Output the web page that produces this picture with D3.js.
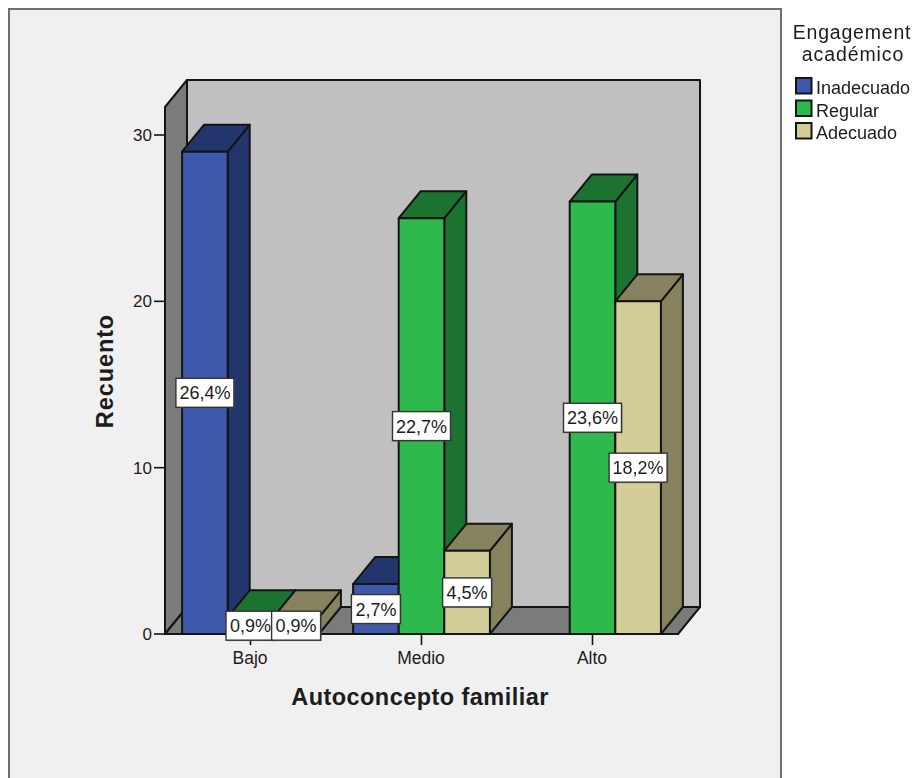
<!DOCTYPE html>
<html><head><meta charset="utf-8">
<script src="https://cdn.jsdelivr.net/npm/d3@7"></script>
<style>html,body{margin:0;padding:0;background:#fff}svg{display:block;filter:blur(0.55px)}text{font-family:"Liberation Sans",Arial,sans-serif;fill:#1c1c1c}</style>
</head><body><div id="c"></div>
<script>
const categories = ["Bajo","Medio","Alto"];
const seriesNames = ["Inadecuado","Regular","Adecuado"];
const inadecuado = [29,3,0];
const regular = [1,25,26];
const adecuado = [1,5,20];
const pctInadecuado = ["26,4%","2,7%",null];
const pctRegular = ["0,9%","22,7%","23,6%"];
const pctAdecuado = ["0,9%","4,5%","18,2%"];
const yTicks = [0,10,20,30];
const front = ["#3e58ac","#2eb94d","#d3ce97"];
const top_ = ["#23356d","#1c7230","#85825d"];
const side = ["#23356d","#1c7230","#85825d"];
const ink = "#141414";

const W=916,H=778,dx=22,dy=-27;
const svg=d3.select("#c").append("svg").attr("width",W).attr("height",H);
const y=d3.scaleLinear().domain([0,30]).range([634,135]);
const x0=d3.scaleBand().domain(categories).range([165,678]).paddingInner(0.2).paddingOuter(0.1);
const x1=d3.scaleBand().domain(seriesNames).range([0,x0.bandwidth()]);
const values=[inadecuado,regular,adecuado], pcts=[pctInadecuado,pctRegular,pctAdecuado];

svg.append("rect").attr("x",9).attr("y",9).attr("width",772).attr("height",780)
  .attr("fill","#f0f0f0").attr("stroke","#6f6f6f").attr("stroke-width",2);

const L=165,R=678,yB=y(0),yT=107;
const poly=(pts,f,sw=2)=>svg.append("path").attr("d","M"+pts.map(p=>p.join(",")).join("L")+"Z")
  .attr("fill",f).attr("stroke",ink).attr("stroke-width",sw).attr("stroke-linejoin","round");
poly([[L+dx,yB+dy],[R+dx,yB+dy],[R+dx,yT+dy],[L+dx,yT+dy]],"#c0c0c0");
poly([[L,yB],[L+dx,yB+dy],[L+dx,yT+dy],[L,yT]],"#7b7b7b");
poly([[L,yB],[R,yB],[R+dx,yB+dy],[L+dx,yB+dy]],"#7b7b7b");

categories.forEach((c,i)=>{
  seriesNames.forEach((s,k)=>{
    const v=values[k][i]; if(!v) return;
    const a=x0(c)+x1(s), b=a+x1.bandwidth(), t=y(v);
    poly([[b,yB],[b+dx,yB+dy],[b+dx,t+dy],[b,t]],side[k]);
    poly([[a,t],[a+dx,t+dy],[b+dx,t+dy],[b,t]],top_[k]);
    poly([[a,yB],[b,yB],[b,t],[a,t]],front[k]);
  });
});
svg.append("g").selectAll("line").data(yTicks).join("line")
  .attr("x1",L-11).attr("x2",L).attr("y1",d=>y(d)).attr("y2",d=>y(d)).attr("stroke",ink).attr("stroke-width",1.6);
svg.append("g").selectAll("text").data(yTicks).join("text")
  .attr("x",L-13).attr("y",d=>y(d)+6).attr("text-anchor","end").attr("font-size",17).text(d=>d);
svg.append("g").selectAll("line").data(categories).join("line")
  .attr("x1",d=>x0(d)+x0.bandwidth()/2).attr("x2",d=>x0(d)+x0.bandwidth()/2)
  .attr("y1",yB).attr("y2",yB+11).attr("stroke",ink).attr("stroke-width",1.6);
svg.append("g").selectAll("text").data(categories).join("text")
  .attr("x",d=>x0(d)+x0.bandwidth()/2-0.5).attr("y",yB+30).attr("text-anchor","middle").attr("font-size",17.5).text(d=>d);
svg.append("text").attr("x",420).attr("y",705).attr("text-anchor","middle").attr("font-size",23.5).attr("letter-spacing",.45).attr("font-weight","bold").attr("fill","#111").text("Autoconcepto familiar");
svg.append("text").attr("transform","translate(113,371) rotate(-90)").attr("text-anchor","middle").attr("font-size",23.5).attr("letter-spacing",.9).attr("font-weight","bold").text("Recuento");

categories.forEach((c,i)=>{
  seriesNames.forEach((s,k)=>{
    const v=values[k][i], p=pcts[k][i]; if(!p) return;
    const cx=x0(c)+x1(s)+x1.bandwidth()/2, cy=y(v/2);
    const w=p.length>4?58:49, h=29;
    svg.append("rect").attr("x",cx-w/2+1).attr("y",cy-h/2+1).attr("width",w).attr("height",h).attr("fill","#666").attr("opacity",.6);
    svg.append("rect").attr("x",cx-w/2).attr("y",cy-h/2).attr("width",w).attr("height",h).attr("fill","#fff").attr("stroke","#333").attr("stroke-width",1.4);
    svg.append("text").attr("x",cx).attr("y",cy+6.5).attr("text-anchor","middle").attr("font-size",18).text(p);
  });
});

svg.append("text").attr("x",852).attr("y",39).attr("text-anchor","middle").attr("font-size",19.5).attr("letter-spacing",.8).text("Engagement");
svg.append("text").attr("x",853).attr("y",61).attr("text-anchor","middle").attr("font-size",19.5).attr("letter-spacing",.9).text("académico");
seriesNames.forEach((s,k)=>{
  const ly=78+k*22.5;
  svg.append("rect").attr("x",796).attr("y",ly).attr("width",15.5).attr("height",15.5).attr("fill",front[k]).attr("stroke",ink).attr("stroke-width",2);
  svg.append("text").attr("x",816).attr("y",ly+16).attr("font-size",18).text(s);
});
</script></body></html>
